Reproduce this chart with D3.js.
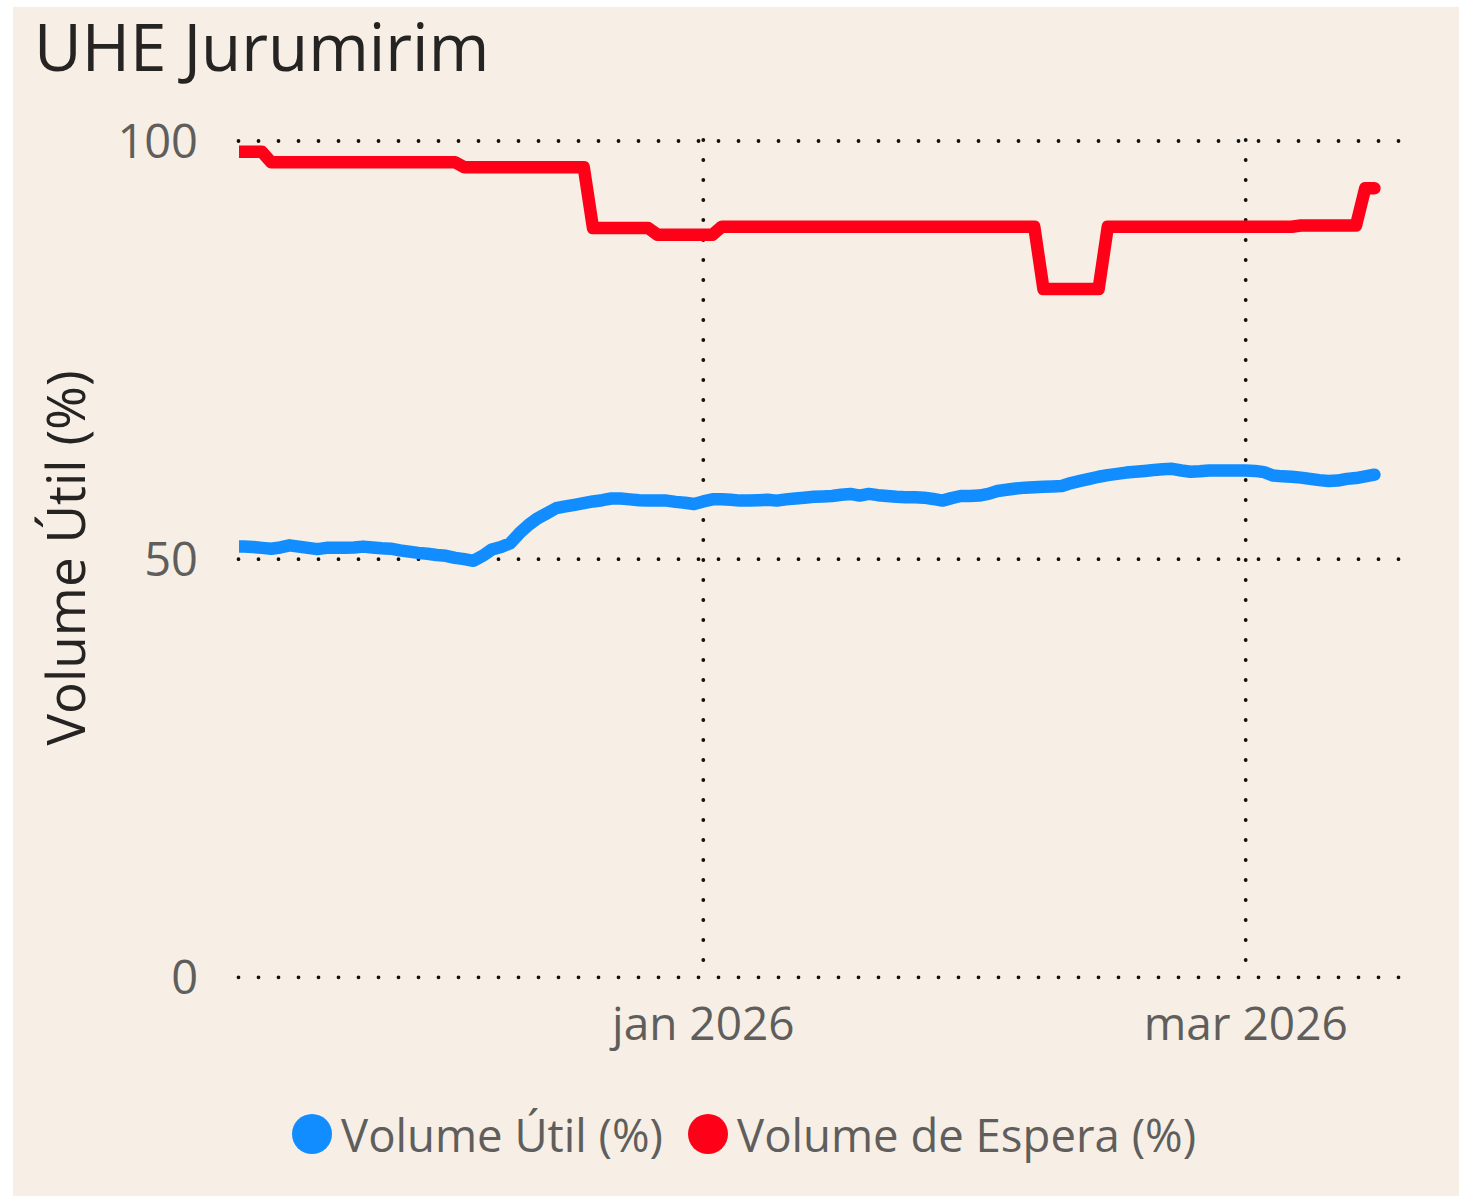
<!DOCTYPE html>
<html>
<head>
<meta charset="utf-8">
<script src="https://cdn.jsdelivr.net/npm/d3@7"></script>
<style>
  html, body { margin: 0; padding: 0; background: #ffffff; }
  svg { display: block; }
</style>
</head>
<body>
<svg id="chart" width="1459" height="1196"></svg>
<script>
// ---------------- DATA ----------------
const chartTitle = "UHE Jurumirim";
const yAxisTitle = "Volume Útil (%)";
const seriesNames = ["Volume Útil (%)", "Volume de Espera (%)"];
const startDate = "2025-11-11"; // first daily observation
const yTicks = [0, 50, 100];
const xTickDates = ["2026-01-01", "2026-03-01"];
const xTickLabels = ["jan 2026", "mar 2026"];

// Volume Útil (%) — daily, 2025-11-11 .. 2026-03-15
const volumeUtil = [
  51.5, 51.5, 51.45, 51.35, 51.25, 51.4, 51.65, 51.5, 51.35, 51.2,
  51.35, 51.35, 51.35, 51.4, 51.5, 51.4, 51.3, 51.25, 51.05, 50.9,
  50.75, 50.65, 50.5, 50.4, 50.15, 50.0, 49.8, 50.4, 51.15, 51.45,
  51.9, 53.1, 54.1, 54.9, 55.5, 56.1, 56.3, 56.5, 56.7, 56.9,
  57.05, 57.25, 57.25, 57.15, 57.05, 57.0, 57.0, 57.0, 56.85, 56.75,
  56.6, 56.9, 57.15, 57.15, 57.1, 57.0, 57.0, 57.05, 57.1, 57.0,
  57.15, 57.25, 57.35, 57.45, 57.5, 57.55, 57.7, 57.8, 57.6, 57.8,
  57.65, 57.55, 57.45, 57.4, 57.4, 57.35, 57.2, 57.0, 57.3, 57.55,
  57.55, 57.6, 57.8, 58.15, 58.3, 58.45, 58.55, 58.6, 58.65, 58.7,
  58.75, 59.1, 59.35, 59.6, 59.85, 60.05, 60.2, 60.35, 60.45, 60.55,
  60.65, 60.75, 60.8, 60.6, 60.45, 60.5, 60.6, 60.6, 60.6, 60.6,
  60.6, 60.55, 60.4, 60.0, 59.9, 59.85, 59.75, 59.6, 59.45, 59.35,
  59.4, 59.6, 59.7, 59.9, 60.1
];

// Volume de Espera (%) — daily, same dates
const volumeEspera = [
  98.7, 98.7, 98.7, 98.7,
  97.45, 97.45, 97.45, 97.45, 97.45, 97.45, 97.45, 97.45, 97.45, 97.45,
  97.45, 97.45, 97.45, 97.45, 97.45, 97.45, 97.45, 97.45, 97.45, 97.45, 97.45,
  96.85, 96.85, 96.85, 96.85, 96.85, 96.85, 96.85, 96.85, 96.85, 96.85, 96.85,
  96.85, 96.85, 96.85,
  89.6, 89.6, 89.6, 89.6, 89.6, 89.6, 89.6,
  88.8, 88.8, 88.8, 88.8, 88.8, 88.8, 88.8,
  89.75, 89.75, 89.75, 89.75, 89.75, 89.75, 89.75, 89.75, 89.75, 89.75,
  89.75, 89.75, 89.75, 89.75, 89.75, 89.75, 89.75, 89.75, 89.75, 89.75,
  89.75, 89.75, 89.75, 89.75, 89.75, 89.75, 89.75, 89.75, 89.75, 89.75,
  89.75, 89.75, 89.75, 89.75, 89.75,
  82.3, 82.3, 82.3, 82.3, 82.3, 82.3, 82.3,
  89.75, 89.75, 89.75, 89.75, 89.75, 89.75, 89.75, 89.75, 89.75, 89.75,
  89.75, 89.75, 89.75, 89.75, 89.75, 89.75, 89.75, 89.75, 89.75, 89.75, 89.75,
  89.9, 89.9, 89.9, 89.9, 89.9, 89.9, 89.9,
  94.35, 94.35
];

// ---------------- STYLE ----------------
const colors = ["#118DFF", "#FF0019"];
const bg = "#F7EFE5";
const font = "'Segoe UI', 'Open Sans', 'Noto Sans', sans-serif";

// ---------------- DRAW ----------------
const svg = d3.select("#chart");
svg.append("rect").attr("x", 13).attr("y", 7).attr("width", 1459 - 13).attr("height", 1196 - 7).attr("fill", bg);

const parse = d3.utcParse("%Y-%m-%d");
const d0 = parse(startDate);
const dates = volumeUtil.map((_, i) => d3.utcDay.offset(d0, i));

const plot = { left: 238.5, right: 1400, top: 141, bottom: 977.3 };

const x = d3.scaleUtc()
  .domain([parse(xTickDates[0]), parse(xTickDates[1])])
  .range([703.3, 1245.7]);
const y = d3.scaleLinear().domain([0, 100]).range([plot.bottom, plot.top]);

// horizontal dotted gridlines
svg.append("g").selectAll("line").data(yTicks).join("line")
  .attr("x1", plot.left).attr("x2", plot.right + 1)
  .attr("y1", d => y(d)).attr("y2", d => y(d))
  .attr("stroke", "#111").attr("stroke-width", 3.8)
  .attr("stroke-linecap", "round").attr("stroke-dasharray", "0 20");

// vertical dotted gridlines
svg.append("g").selectAll("line").data(xTickDates).join("line")
  .attr("x1", d => x(parse(d))).attr("x2", d => x(parse(d)))
  .attr("y1", plot.top - 1).attr("y2", plot.bottom)
  .attr("stroke", "#111").attr("stroke-width", 3.8)
  .attr("stroke-linecap", "round").attr("stroke-dasharray", "0 20");

// y tick labels
svg.append("g").selectAll("text").data(yTicks).join("text")
  .attr("x", 198).attr("y", d => y(d) + 17)
  .attr("text-anchor", "end")
  .attr("font-family", font).attr("font-size", 47)
  .attr("fill", "#605E5C")
  .text(d => d);

// x tick labels
svg.append("g").selectAll("text").data(xTickDates).join("text")
  .attr("x", d => x(parse(d))).attr("y", 1040)
  .attr("text-anchor", "middle")
  .attr("font-family", font).attr("font-size", 46)
  .attr("fill", "#605E5C")
  .text((d, i) => xTickLabels[i]);

// clip
svg.append("clipPath").attr("id", "clip").append("rect")
  .attr("x", 239).attr("y", 0).attr("width", 1459 - 239).attr("height", 1196);

const line = d3.line()
  .x((d, i) => x(dates[i]))
  .y(d => y(d));

const lines = svg.append("g").attr("clip-path", "url(#clip)");
[volumeUtil, volumeEspera].forEach((s, k) => {
  lines.append("path")
    .attr("d", line(s))
    .attr("fill", "none")
    .attr("stroke", colors[k])
    .attr("stroke-width", 12.5)
    .attr("stroke-linejoin", "round")
    .attr("stroke-linecap", "round");
});

// title
svg.append("text")
  .attr("x", 34).attr("y", 71)
  .attr("font-family", font).attr("font-size", 65.5)
  .attr("fill", "#252423")
  .text(chartTitle);

// y axis title
svg.append("text")
  .attr("transform", "translate(85,558) rotate(-90)")
  .attr("text-anchor", "middle")
  .attr("font-family", font).attr("font-size", 53)
  .attr("fill", "#252423")
  .text(yAxisTitle);

// legend
const legendX = [312, 708];
const lg = svg.append("g");
seriesNames.forEach((name, k) => {
  lg.append("circle").attr("cx", legendX[k]).attr("cy", 1134).attr("r", 20).attr("fill", colors[k]);
  lg.append("text")
    .attr("x", legendX[k] + 29).attr("y", 1152)
    .attr("font-family", font).attr("font-size", 45.5)
    .attr("fill", "#605E5C")
    .text(name);
});
</script>
</body>
</html>
